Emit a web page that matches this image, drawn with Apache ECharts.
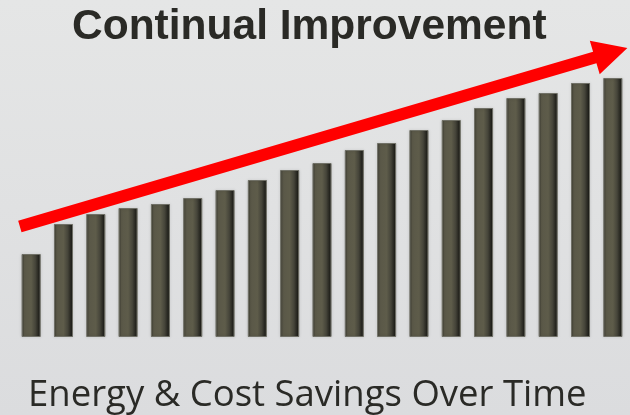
<!DOCTYPE html>
<html>
<head>
<meta charset="utf-8">
<script src="https://cdn.jsdelivr.net/npm/echarts@6/dist/echarts.min.js"></script>
<style>
html,body{margin:0;padding:0;}
#chart{width:630px;height:415px;}
</style>
</head>
<body>
<div id="chart"></div>
<script>
var titleText = 'Continual Improvement';
var subtitleText = 'Energy & Cost Savings Over Time';
var categories = ['1','2','3','4','5','6','7','8','9','10','11','12','13','14','15','16','17','18','19'];
var savings = [83,113,123,129,133,139,147,157,167,174,187,194,207,217,229,239,244,254,259];
// arrow start and tip in data coordinates [category position, value]
var arrowStart = [-0.35, 110.5];
var arrowTip = [18.45, 289];

var chart = echarts.init(document.getElementById('chart'), null, {renderer:'canvas'});

var option = {
  animation: false,
  backgroundColor: {
    type: 'linear', x: 0, y: 0, x2: 0, y2: 1,
    colorStops: [{offset: 0, color: '#e5e6e6'}, {offset: 1, color: '#dbdcde'}]
  },
  title: [{
    text: titleText,
    left: 67,
    top: -1,
    textStyle: {fontFamily: 'Liberation Sans', fontWeight: 'bold', fontSize: 42.5, color: '#2a2a26', lineHeight: 46}
  }, {
    text: subtitleText,
    left: 23,
    top: 371,
    textStyle: {fontFamily: 'Open Sans', fontWeight: 'normal', fontSize: 36.5, color: '#2a2a26', lineHeight: 40}
  }],
  grid: {left: 15, right: 1, top: 37, bottom: 78, containLabel: false},
  xAxis: [{
    type: 'category', data: categories,
    axisLine: {show: false}, axisTick: {show: false}, axisLabel: {show: false}
  }, {
    type: 'value', min: -0.5, max: 18.5, show: false
  }],
  yAxis: {
    type: 'value', min: 0, max: 300, show: false, splitLine: {show: false}
  },
  series: [{
    type: 'bar',
    data: savings,
    barWidth: 19,
    itemStyle: {
      color: {
        type: 'linear', x: 0, y: 0, x2: 1, y2: 0,
        colorStops: [
          {offset: 0, color: '#3c3b31'},
          {offset: 0.15, color: '#5a5848'},
          {offset: 0.5, color: '#5e5c4a'},
          {offset: 0.72, color: '#46453a'},
          {offset: 1, color: '#131310'}
        ]
      },
      borderColor: 'rgba(110,110,100,0.7)',
      borderWidth: 1,
      shadowColor: 'rgba(0,0,0,0.25)',
      shadowBlur: 3
    }
  }]
};
chart.setOption(option);

function drawArrow() {
  var p0 = chart.convertToPixel({xAxisIndex: 1, yAxisIndex: 0}, arrowStart);
  var p1 = chart.convertToPixel({xAxisIndex: 1, yAxisIndex: 0}, arrowTip);
  var dx = p1[0] - p0[0], dy = p1[1] - p0[1];
  var len = Math.sqrt(dx * dx + dy * dy);
  var ux = dx / len, uy = dy / len;
  var nx = -uy, ny = ux;
  var sw = 6, hw = 17.5, hl = 34;
  var neck = [p1[0] - ux * hl, p1[1] - uy * hl];
  var pts = [
    [p0[0] + nx * sw, p0[1] + ny * sw],
    [neck[0] + nx * sw, neck[1] + ny * sw],
    [neck[0] + nx * hw, neck[1] + ny * hw],
    p1,
    [neck[0] - nx * hw, neck[1] - ny * hw],
    [neck[0] - nx * sw, neck[1] - ny * sw],
    [p0[0] - nx * sw, p0[1] - ny * sw]
  ];
  chart.setOption({
    graphic: [{
      type: 'polygon', z: 100,
      shape: {points: pts},
      style: {fill: '#ff0000'}
    }]
  });
}
drawArrow();
</script>
</body>
</html>
